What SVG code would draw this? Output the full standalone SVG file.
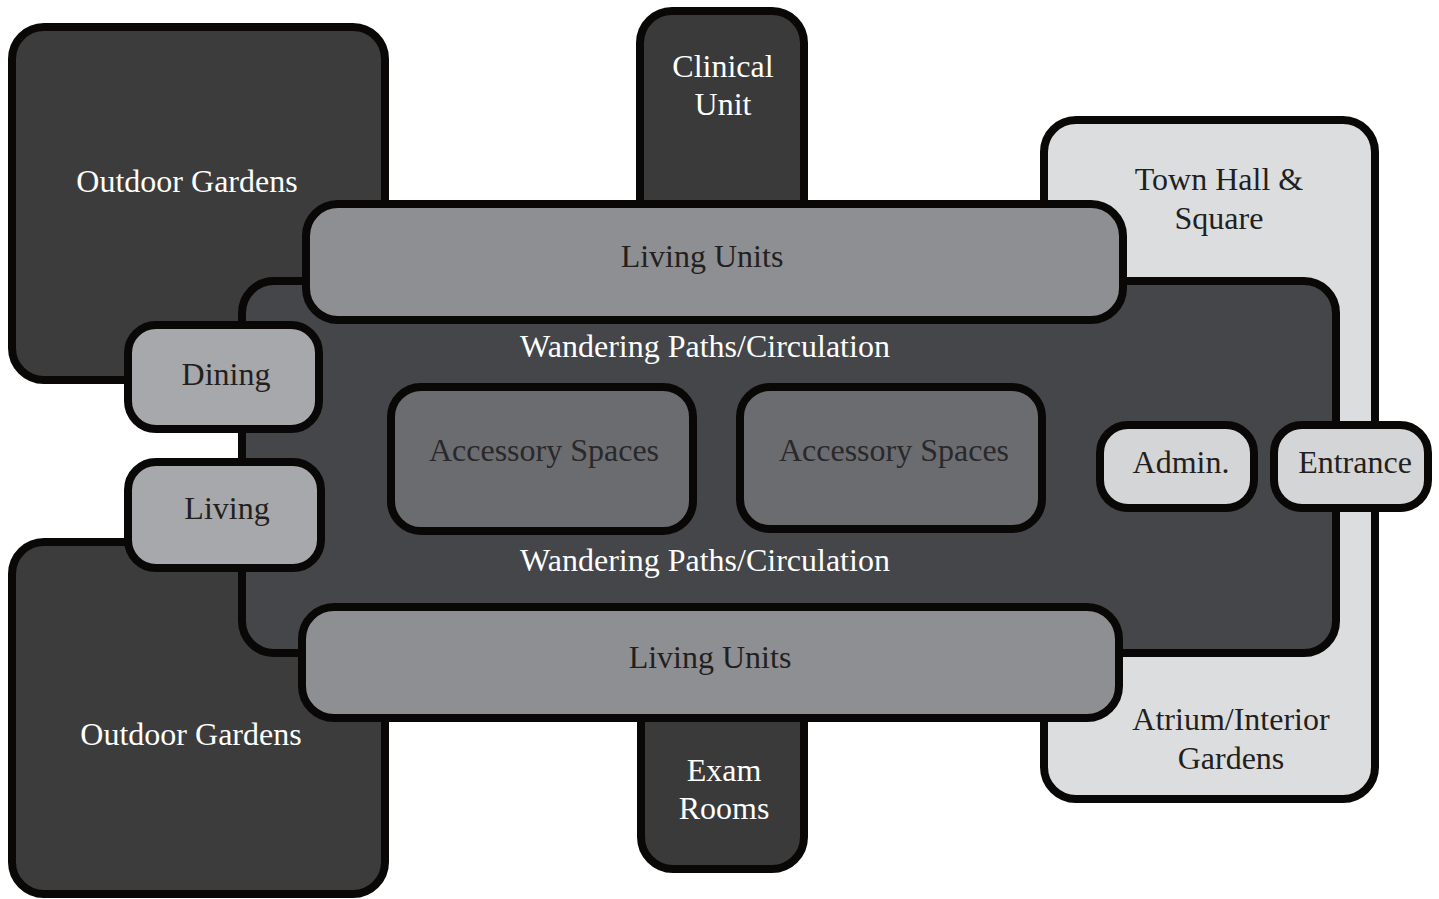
<svg xmlns="http://www.w3.org/2000/svg" width="1439" height="899" viewBox="0 0 1439 899">
<style>
.b{stroke:#0a0806;stroke-width:8}
.dk{fill:#3c3c3d}
.mid{fill:#454649}
.lu{fill:#8e8f93}
.sm{fill:#a7a8ab}
.acc{fill:#6b6c70}
.lt{fill:#dcdddf}
.adm{fill:#d4d5d7}
text{font-family:"Liberation Serif","Times New Roman",serif;font-size:32px;text-anchor:middle}
.w{fill:#ffffff}
.k{fill:#231f20}
.ka{fill:#2a282a}
</style>
<rect width="1439" height="899" fill="#ffffff"/>
<g id="outdoor-gardens-top"><rect class="b dk" x="12" y="27" width="373" height="353" rx="32"/><text class="w" x="187" y="192">Outdoor Gardens</text></g>
<g id="outdoor-gardens-bottom"><rect class="b dk" x="12" y="542" width="373" height="352" rx="32"/><text class="w" x="191" y="745">Outdoor Gardens</text></g>
<g id="clinical-unit"><rect class="b" fill="#3a3a3b" x="640" y="11" width="164" height="240" rx="32"/><text class="w" x="723" y="77">Clinical</text><text class="w" x="723" y="115">Unit</text></g>
<g id="exam-rooms"><rect class="b" fill="#3a3a3b" x="641" y="640" width="163" height="229" rx="32"/><text class="w" x="724" y="781">Exam</text><text class="w" x="724" y="819">Rooms</text></g>
<g id="town-hall"><rect class="b lt" x="1044" y="120" width="331" height="679" rx="32"/><text class="k" x="1219" y="190">Town Hall &amp;</text><text class="k" x="1219" y="229">Square</text><text class="k" x="1231" y="730">Atrium/Interior</text><text class="k" x="1231" y="769">Gardens</text></g>
<g id="circulation"><rect class="b mid" x="242" y="281" width="1094" height="372" rx="32"/><text class="w" x="705" y="357">Wandering Paths/Circulation</text><text class="w" x="705" y="571">Wandering Paths/Circulation</text></g>
<g id="living-units-top"><rect class="b lu" x="306" y="204" width="817" height="116" rx="32"/><text class="k" x="702" y="267">Living Units</text></g>
<g id="living-units-bottom"><rect class="b lu" x="302" y="607" width="817" height="111" rx="32"/><text class="k" x="710" y="668">Living Units</text></g>
<g id="dining"><rect class="b sm" x="128" y="325" width="191" height="104" rx="28"/><text class="k" x="226" y="385">Dining</text></g>
<g id="living"><rect class="b sm" x="128" y="462" width="193" height="106" rx="28"/><text class="k" x="227" y="519">Living</text></g>
<g id="accessory-1"><rect class="b acc" x="391" y="387" width="302" height="144" rx="30"/><text class="ka" x="544" y="461">Accessory Spaces</text></g>
<g id="accessory-2"><rect class="b acc" x="740" y="387" width="302" height="142" rx="30"/><text class="ka" x="894" y="461">Accessory Spaces</text></g>
<g id="admin"><rect class="b adm" x="1100" y="425" width="154" height="83" rx="28"/><text class="k" x="1181" y="473">Admin.</text></g>
<g id="entrance"><rect class="b adm" x="1274" y="425" width="154" height="83" rx="28"/><text class="k" x="1355" y="473">Entrance</text></g>
<g id="connectors"></g>
</svg>
